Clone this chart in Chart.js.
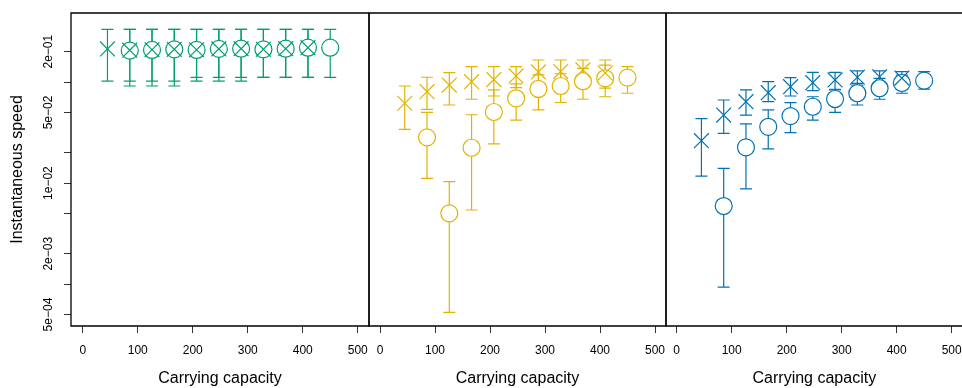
<!DOCTYPE html>
<html>
<head>
<meta charset="utf-8">
<script src="https://cdn.jsdelivr.net/npm/chart.js@4"></script>
<style>
  html, body { margin: 0; background: #fff; overflow: hidden; }
  #wrap { position: relative; width: 962px; height: 388px; overflow: hidden; }
  canvas { position: absolute; left: 0; top: 0; }
</style>
</head>
<body>
<div id="wrap">
  <canvas id="p1" width="962" height="388"></canvas>
  <canvas id="p2" width="962" height="388"></canvas>
  <canvas id="p3" width="1000" height="388"></canvas>
</div>
<script>
// carrying capacity positions (crosses use the first 10, circles the last 10)
const xPos = [45, 85.5, 126, 166.5, 207, 247.5, 288, 328.5, 369, 409.5, 450];
const crossX = xPos.slice(0, 10);
const circleX = xPos.slice(1);

const yTicks = [5e-4, 1e-3, 2e-3, 5e-3, 1e-2, 2e-2, 5e-2, 1e-1, 2e-1];
const yLabels = { 5e-4: '5e\u221204', 2e-3: '2e\u221203', 1e-2: '1e\u221202', 5e-2: '5e\u221202', 2e-1: '2e\u221201' };
const xTicks = [0, 100, 200, 300, 400, 500];

// panel 1 (green)
const greenCross   = [0.213, 0.207, 0.209, 0.211, 0.209, 0.213, 0.214, 0.211, 0.214, 0.219];
const greenCrossLo = [0.102, 0.102, 0.102, 0.102, 0.1115, 0.1115, 0.1115, 0.1115, 0.1115, 0.1115];
const greenCrossHi = [0.333, 0.333, 0.333, 0.333, 0.333, 0.333, 0.333, 0.333, 0.333, 0.333];
const greenCircle   = [0.205, 0.208, 0.211, 0.208, 0.213, 0.214, 0.211, 0.214, 0.219, 0.219];
const greenCircleLo = [0.0915, 0.0915, 0.0915, 0.102, 0.102, 0.102, 0.1115, 0.1115, 0.1115, 0.1115];
const greenCircleHi = [0.333, 0.333, 0.333, 0.333, 0.333, 0.333, 0.333, 0.333, 0.333, 0.333];

// panel 2 (yellow)
const yellowCross   = [0.0617, 0.0803, 0.0935, 0.101, 0.106, 0.115, 0.126, 0.127, 0.132, 0.123];
const yellowCrossLo = [0.0341, 0.0538, 0.0593, 0.0676, 0.0728, 0.088, 0.087, 0.089, 0.099, 0.087];
const yellowCrossHi = [0.0915, 0.1117, 0.124, 0.142, 0.142, 0.142, 0.1655, 0.1655, 0.1655, 0.1655];
const yellowCircle   = [0.0284, 0.00502, 0.0224, 0.0506, 0.0691, 0.0855, 0.0915, 0.102, 0.109, 0.1106];
const yellowCircleLo = [0.01114, 0.000526, 0.00542, 0.0244, 0.0421, 0.053, 0.0628, 0.0676, 0.0716, 0.0775];
const yellowCircleHi = [0.0502, 0.01033, 0.0475, 0.0836, 0.0961, 0.118, 0.121, 0.137, 0.147, 0.142];

// panel 3 (blue)
const blueCross   = [0.0263, 0.0472, 0.064, 0.0785, 0.090, 0.0986, 0.105, 0.1117, 0.113, 0.1096];
const blueCrossLo = [0.01175, 0.0311, 0.0472, 0.064, 0.0728, 0.0822, 0.0849, 0.0935, 0.0986, 0.092];
const blueCrossHi = [0.0435, 0.0665, 0.0836, 0.101, 0.1106, 0.125, 0.125, 0.129, 0.129, 0.1268];
const blueCircle   = [0.00593, 0.0226, 0.0361, 0.0461, 0.057, 0.068, 0.0775, 0.0869, 0.098, 0.1033];
const blueCircleLo = [0.000935, 0.00875, 0.0218, 0.0316, 0.0421, 0.0502, 0.0593, 0.0676, 0.0775, 0.085];
const blueCircleHi = [0.0140, 0.0385, 0.053, 0.0625, 0.0716, 0.0836, 0.0973, 0.109, 0.117, 0.1268];

Chart.defaults.font.family = '"Liberation Sans", Arial, Helvetica, sans-serif';
Chart.defaults.color = '#000';
Chart.defaults.animation = false;

const errorBars = {
  id: 'errorBars',
  beforeDatasetsDraw(chart) {
    const ctx = chart.ctx, y = chart.scales.y, a = chart.chartArea;
    ctx.save();
    ctx.beginPath();
    ctx.rect(a.left, a.top, a.right - a.left, a.bottom - a.top);
    ctx.clip();
    chart.data.datasets.forEach((ds, i) => {
      const meta = chart.getDatasetMeta(i);
      ctx.strokeStyle = ds.borderColor;
      ctx.lineWidth = 1.2;
      ctx.beginPath();
      meta.data.forEach((pt, j) => {
        const top = y.getPixelForValue(ds.hi[j]);
        const bot = y.getPixelForValue(ds.lo[j]);
        ctx.moveTo(pt.x, top); ctx.lineTo(pt.x, bot);
        ctx.moveTo(pt.x - 6, top); ctx.lineTo(pt.x + 6, top);
        ctx.moveTo(pt.x - 6, bot); ctx.lineTo(pt.x + 6, bot);
      });
      ctx.stroke();
    });
    ctx.restore();
  }
};

const frame = {
  id: 'frame',
  afterDraw(chart, args, opts) {
    const ctx = chart.ctx, a = chart.chartArea;
    ctx.save();
    ctx.strokeStyle = '#000';
    ctx.lineWidth = 1.3;
    ctx.beginPath();
    ctx.moveTo(a.right, a.top);
    ctx.lineTo(a.left, a.top);
    ctx.lineTo(a.left, a.bottom);
    ctx.lineTo(a.right, a.bottom);
    if (opts.right) ctx.lineTo(a.right, a.top);
    ctx.stroke();
    if (opts.yLabels) {
      const y = chart.scales.y;
      ctx.fillStyle = '#000';
      ctx.font = '12px "Liberation Sans", Arial, sans-serif';
      ctx.textAlign = 'center';
      ctx.textBaseline = 'middle';
      yTicks.forEach(v => {
        if (!yLabels[v]) return;
        ctx.save();
        ctx.translate(49, y.getPixelForValue(v));
        ctx.rotate(-Math.PI / 2);
        ctx.fillText(yLabels[v], 0, 0);
        ctx.restore();
      });
    }
    ctx.restore();
  }
};

function makePanel(id, color, cross, crossLo, crossHi, circle, circleLo, circleHi, p) {
  new Chart(document.getElementById(id), {
    type: 'scatter',
    data: {
      datasets: [
        {
          data: crossX.map((x, i) => ({ x: x, y: cross[i] })),
          lo: crossLo, hi: crossHi,
          borderColor: color, backgroundColor: color,
          pointStyle: 'crossRot', pointRadius: 10.5, borderWidth: 1.2
        },
        {
          data: circleX.map((x, i) => ({ x: x, y: circle[i] })),
          lo: circleLo, hi: circleHi,
          borderColor: color, backgroundColor: '#fff',
          pointStyle: 'circle', pointRadius: 8.5, borderWidth: 1.2
        }
      ]
    },
    options: {
      responsive: false,
      layout: { padding: { left: p.left, right: p.right, top: 13, bottom: 0 } },
      plugins: {
        legend: { display: false },
        tooltip: { enabled: false },
        frame: { right: p.rightBorder, yLabels: p.showY }
      },
      scales: {
        x: {
          type: 'linear', position: 'bottom', min: p.xmin, max: p.xmax,
          afterBuildTicks: s => { s.ticks = xTicks.map(v => ({ value: v })); },
          afterFit: s => { s.height = 62; },
          grid: { drawOnChartArea: false, drawTicks: true, tickLength: 7, tickColor: '#333', tickWidth: 1 },
          border: { display: false },
          ticks: { font: { size: 12 }, padding: 10, maxRotation: 0, autoSkip: false, callback: v => String(v) },
          title: { display: true, text: 'Carrying capacity', font: { size: 16 }, padding: { top: 0, bottom: 0 } }
        },
        y: {
          type: 'logarithmic', min: 3.85e-4, max: 0.483,
          display: p.showY,
          afterBuildTicks: s => { s.ticks = yTicks.map(v => ({ value: v })); },
          afterFit: s => { s.width = p.showY ? 71 : 0; },
          grid: { drawOnChartArea: false, drawTicks: true, tickLength: 7, tickColor: '#333', tickWidth: 1 },
          border: { display: false },
          ticks: { display: false },
          title: { display: true, text: 'Instantaneous speed', font: { size: 16 }, padding: { top: 8, bottom: 0 } }
        }
      }
    },
    plugins: [errorBars, frame]
  });
}

makePanel('p1', '#009E73', greenCross, greenCrossLo, greenCrossHi, greenCircle, greenCircleLo, greenCircleHi,
  { left: 0, right: 593, xmin: -21.3, xmax: 520.5, showY: true, rightBorder: true });
makePanel('p2', '#E2B400', yellowCross, yellowCrossLo, yellowCrossHi, yellowCircle, yellowCircleLo, yellowCircleHi,
  { left: 369, right: 296, xmin: -20, xmax: 520, showY: false, rightBorder: true });
makePanel('p3', '#0072B2', blueCross, blueCrossLo, blueCrossHi, blueCircle, blueCircleLo, blueCircleHi,
  { left: 666, right: 37.3, xmin: -19.4, xmax: 520.1, showY: false, rightBorder: false });
</script>
</body>
</html>
